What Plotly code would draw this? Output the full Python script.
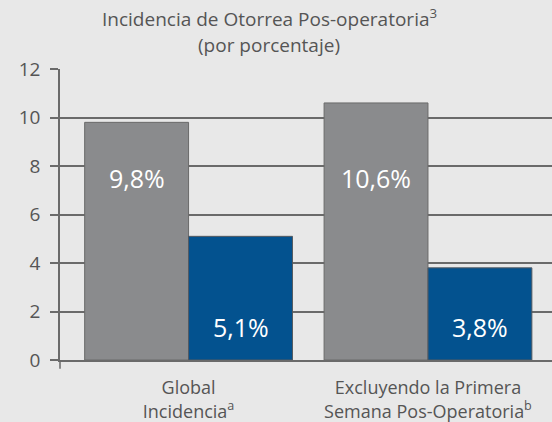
import plotly.graph_objects as go

categories = ["Global<br>Incidencia<sup>a</sup>",
              "Excluyendo la Primera<br>Semana Pos-Operatoria<sup>b</sup>"]
grupo_gris = [9.8, 10.6]
grupo_azul = [5.1, 3.8]
etiquetas_gris = ["9,8%", "10,6%"]
etiquetas_azul = ["5,1%", "3,8%"]
y_ticks = [0, 2, 4, 6, 8, 10, 12]
titulo_1 = "Incidencia de Otorrea Pos-operatoria<sup>3</sup>"
titulo_2 = "(por porcentaje)"

FONT = "Open Sans"
TXT = "#555555"
GRAY = "#8a8b8d"
BLUE = "#03528f"
LINE = "#6a6a6a"

fig = go.Figure()
fig.add_trace(go.Bar(x=categories, y=grupo_gris, marker=dict(color=GRAY, line=dict(color=LINE, width=1)),
                     hoverinfo="skip", showlegend=False))
fig.add_trace(go.Bar(x=categories, y=grupo_azul, marker=dict(color=BLUE, line=dict(color="#555a60", width=1)),
                     hoverinfo="skip", showlegend=False))

for i, c in enumerate(categories):
    fig.add_annotation(x=c, y=7.5, text=etiquetas_gris[i], showarrow=False, xshift=-52,
                       font=dict(family=FONT, size=25, color="white"))
    fig.add_annotation(x=c, y=1.35, text=etiquetas_azul[i], showarrow=False, xshift=52,
                       font=dict(family=FONT, size=25, color="white"))

fig.add_annotation(xref="paper", yref="paper", x=0.425, y=1, yshift=51, text=titulo_1, showarrow=False,
                   xanchor="center", yanchor="middle", font=dict(family=FONT, size=19, color=TXT))
fig.add_annotation(xref="paper", yref="paper", x=0.425, y=1, yshift=24, text=titulo_2, showarrow=False,
                   xanchor="center", yanchor="middle", font=dict(family=FONT, size=19, color=TXT))

fig.add_shape(type="line", xref="paper", yref="paper", x0=0, x1=0, y0=0, y1=-0.03,
              line=dict(color=LINE, width=1.5))

fig.update_layout(
    width=552, height=422,
    margin=dict(l=60, r=0, t=69, b=62),
    paper_bgcolor="#e8e8e8", plot_bgcolor="#e8e8e8",
    barmode="group", bargap=0.132, bargroupgap=0,
    font=dict(family=FONT, color=TXT, size=18),
    xaxis=dict(range=[-0.537, 1.518], showline=True, linecolor=LINE, linewidth=1.5,
               ticks="", ticklabelstandoff=11, tickfont=dict(family=FONT, size=18, color=TXT), showgrid=False),
    yaxis=dict(range=[0, 12], tickvals=y_ticks, showline=True, linecolor=LINE, linewidth=1.5,
               ticks="outside", ticklen=8, tickcolor=LINE, tickwidth=1.5, ticklabelstandoff=6,
               showgrid=True, gridcolor=LINE, gridwidth=1.5, zeroline=False,
               tickfont=dict(family=FONT, size=19, color=TXT)),
)

fig.write_html("out.html", config={"displayModeBar": False},
               post_script="document.body.style.margin='0';")
